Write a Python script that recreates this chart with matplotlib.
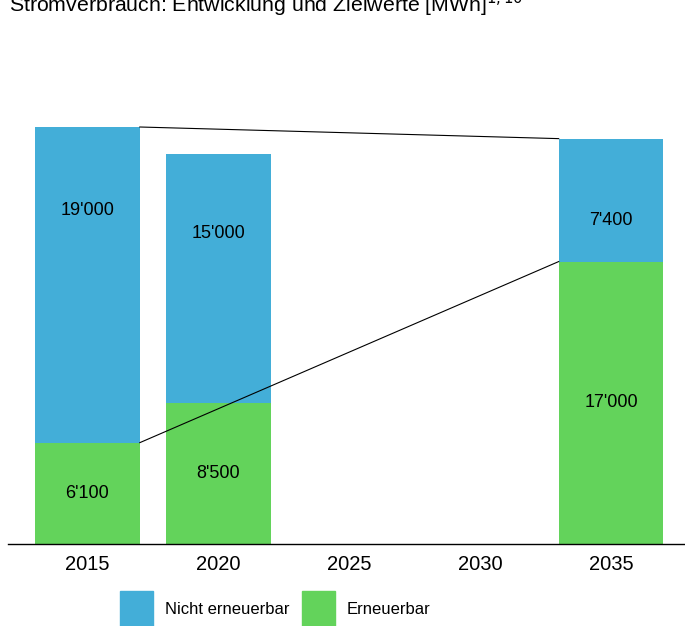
import matplotlib.pyplot as plt
from matplotlib.patches import Patch

plt.rcParams['font.family'] = ['Liberation Sans', 'DejaVu Sans']

# data
years = ['2015', '2020', '2025', '2030', '2035']
erneuerbar = [6100, 8500, 0, 0, 17000]
nicht_erneuerbar = [19000, 15000, 0, 0, 7400]
labels_ern = ["6'100", "8'500", "", "", "17'000"]
labels_nicht = ["19'000", "15'000", "", "", "7'400"]

blue = '#43AED8'
green = '#63D35B'
width = 0.8

fig = plt.figure(figsize=(6.85, 6.26), dpi=100)
ax = fig.add_axes([8 / 685, 82 / 626, 677 / 685, 514 / 626])

x = list(range(len(years)))
ax.bar(x, erneuerbar, width=width, color=green)
ax.bar(x, nicht_erneuerbar, width=width, bottom=erneuerbar, color=blue)

# value labels (blue labels sit at a fraction of the segment, as in the source)
label_frac = [0.735, 0.68, 0.5, 0.5, 0.33]
for i in x:
    if labels_ern[i]:
        ax.text(i, erneuerbar[i] / 2, labels_ern[i], ha='center', va='center', fontsize=13)
    if labels_nicht[i]:
        ax.text(i, erneuerbar[i] + nicht_erneuerbar[i] * label_frac[i], labels_nicht[i],
                ha='center', va='center', fontsize=13)

# trend lines 2015 -> 2035
a, b = 0, 4
tot = [e + n for e, n in zip(erneuerbar, nicht_erneuerbar)]
ax.plot([a + width / 2, b - width / 2], [tot[a], tot[b]], color='black', lw=0.8)
ax.plot([a + width / 2, b - width / 2], [erneuerbar[a], erneuerbar[b]], color='black', lw=0.8)

ax.set_xlim(-0.607, 4.565)
ax.set_ylim(0, 514 / (417 / 25100))
ax.set_xticks(x)
ax.set_xticklabels(years, fontsize=14.5)
ax.tick_params(axis='x', length=0, pad=8)
ax.set_yticks([])
for s in ['left', 'right', 'top']:
    ax.spines[s].set_visible(False)
ax.spines['bottom'].set_linewidth(1.0)

fig.text(9 / 685, 1 - 12.5 / 626, 'Stromverbrauch: Entwicklung und Zielwerte [MWh]$^{1,10}$',
         fontsize=15.3, va='baseline', ha='left')

handles = [Patch(color=blue, label='Nicht erneuerbar'), Patch(color=green, label='Erneuerbar')]
fig.legend(handles=handles, loc='center left', bbox_to_anchor=(120 / 685, 1 - 609 / 626), ncol=2,
           frameon=False, fontsize=12, handlelength=1.98, handleheight=3.0,
           handletextpad=0.72, columnspacing=0.75, borderpad=0, borderaxespad=0)

fig.savefig('out.png', dpi=100)
